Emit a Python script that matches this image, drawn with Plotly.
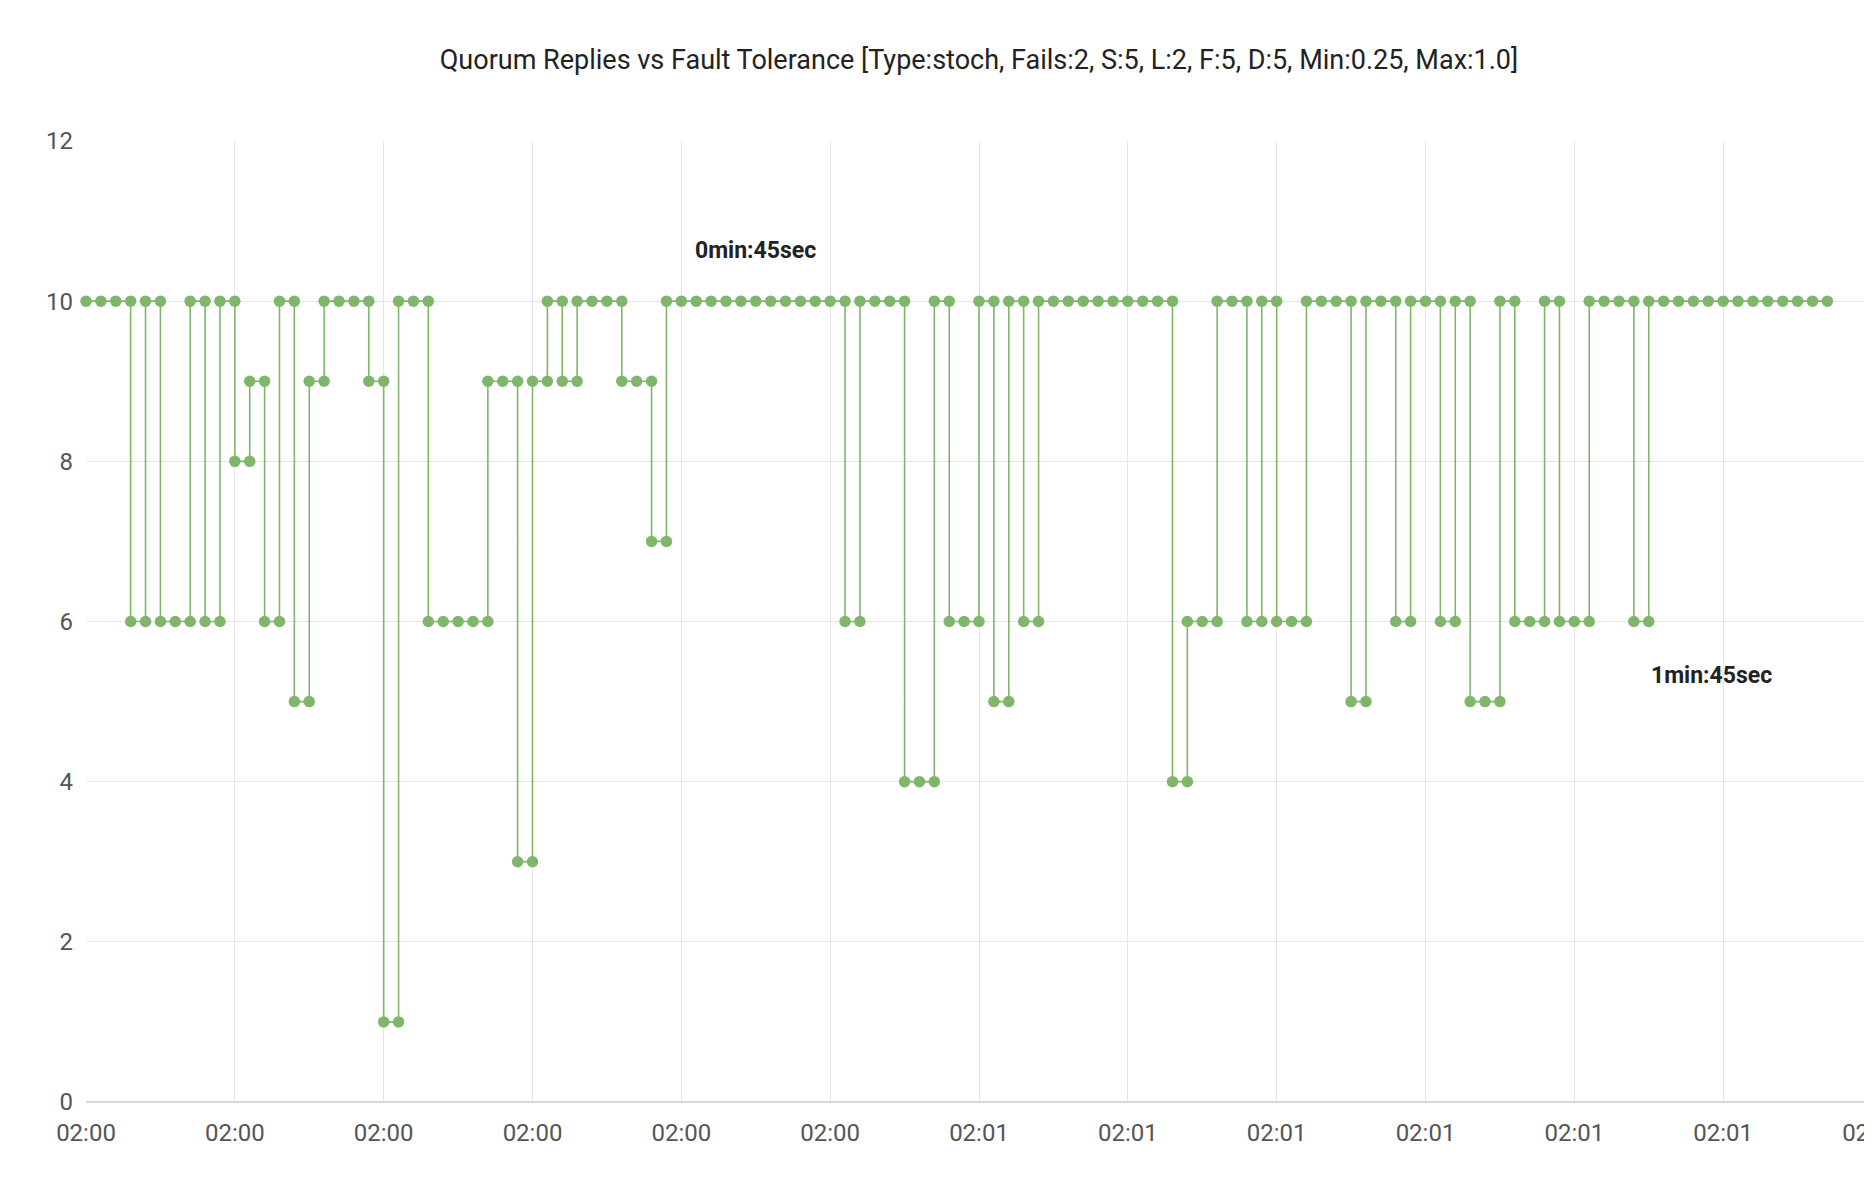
import plotly.graph_objects as go
import pandas as pd

# Data: one reading per second starting at 02:00:00
start_time = "2020-01-01 02:00:00"
replies = [10, 10, 10, 6, 10, 6, 6, 10, 6, 10,
           8, 9, 6, 10, 5, 9, 10, 10, 10, 9,
           1, 10, 10, 6, 6, 6, 6, 9, 9, 3,
           9, 10, 9, 10, 10, 10, 9, 9, 7, 10,
           10, 10, 10, 10, 10, 10, 10, 10, 10, 10,
           10, 6, 10, 10, 10, 4, 4, 10, 6, 6,
           10, 5, 10, 6, 10, 10, 10, 10, 10, 10,
           10, 10, 10, 4, 6, 6, 10, 10, 6, 10,
           6, 6, 10, 10, 10, 5, 10, 10, 6, 10,
           10, 6, 10, 5, 5, 10, 6, 6, 10, 6,
           6, 10, 10, 10, 6, 10, 10, 10, 10, 10,
           10, 10, 10, 10, 10, 10, 10, 10]
annot_texts = ["0min:45sec", "1min:45sec"]
annot_seconds = [45, 105]
annot_values = [10.63, 5.33]

base = pd.Timestamp(start_time)
times = [base + pd.Timedelta(seconds=i) for i in range(len(replies))]

# step path: at each change, mark both the old and the new value
xs, ys = [times[0]], [replies[0]]
for i in range(1, len(replies)):
    if replies[i] != replies[i - 1]:
        xs.append(times[i]); ys.append(replies[i - 1])
    xs.append(times[i]); ys.append(replies[i])

green = "#80b66c"
fig = go.Figure()
fig.add_trace(go.Scatter(
    x=xs, y=ys, mode="lines+markers",
    line=dict(color=green, width=1.6),
    marker=dict(color=green, size=11.5),
    cliponaxis=False, showlegend=False,
))

fig.add_annotation(x=base + pd.Timedelta(seconds=annot_seconds[0]), y=annot_values[0],
                   text="<b>" + annot_texts[0] + "</b>", showarrow=False,
                   xanchor="center", yanchor="middle",
                   font=dict(family="Roboto", size=23, color="#222"))
fig.add_annotation(x=base + pd.Timedelta(seconds=annot_seconds[1]), y=annot_values[1],
                   text="<b>" + annot_texts[1] + "</b>", showarrow=False,
                   xanchor="left", yanchor="middle",
                   font=dict(family="Roboto", size=23, color="#222"))

W, H = 1864, 1171
L, T, B = 78, 133, 77
fig.update_layout(
    width=W, height=H,
    margin=dict(l=L, r=0, t=T, b=B),
    paper_bgcolor="white", plot_bgcolor="white",
    title=dict(text="Quorum Replies vs Fault Tolerance [Type:stoch, Fails:2, S:5, L:2, F:5, D:5, Min:0.25, Max:1.0]",
               x=(L + W) / 2 / W, xanchor="center", y=1 - 52 / H, yanchor="middle",
               font=dict(family="Roboto", size=27, color="#222")),
    font=dict(family="Roboto", color="#555"),
)
fig.update_xaxes(
    type="date", range=[base, base + pd.Timedelta(seconds=120)],
    dtick=10000, tick0=base, tickformat="%H:%M",
    showgrid=True, gridcolor="#e6e6e6", gridwidth=1,
    zeroline=False, showline=False, ticks="",
    ticklabelstandoff=14, automargin=False, ticklabeloverflow="allow",
    tickfont=dict(family="Roboto", size=24, color="#555"),
)
fig.update_yaxes(
    range=[0, 12], dtick=2, tick0=0,
    showgrid=True, gridcolor="#e6e6e6", gridwidth=1,
    zeroline=True, zerolinecolor="#d8d8d8", zerolinewidth=2,
    showline=False, ticks="",
    ticklabelstandoff=12, automargin=False,
    tickfont=dict(family="Roboto", size=24, color="#555"),
)

fig.write_html("out.html")
